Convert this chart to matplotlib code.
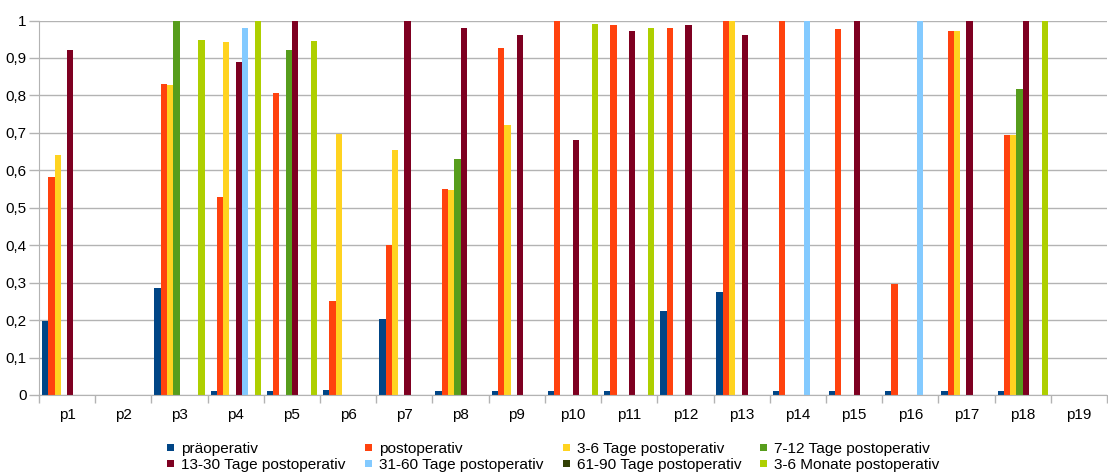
import matplotlib
matplotlib.use("Agg")
import matplotlib.pyplot as plt
import numpy as np
from matplotlib.patches import Rectangle
from matplotlib.ticker import FuncFormatter, FixedLocator

plt.rcParams['font.family'] = ['Liberation Sans', 'DejaVu Sans']

patients = [f"p{i}" for i in range(1, 20)]

series_names = [
    "präoperativ",
    "postoperativ",
    "3-6 Tage postoperativ",
    "7-12 Tage postoperativ",
    "13-30 Tage postoperativ",
    "31-60 Tage postoperativ",
    "61-90 Tage postoperativ",
    "3-6 Monate postoperativ",
]

colors = ["#004586", "#ff420e", "#ffd320", "#579d1c",
          "#7e0021", "#83caff", "#314004", "#aecf00"]

#                 p1     p2  p3     p4     p5     p6     p7     p8     p9     p10   p11   p12    p13    p14   p15   p16   p17   p18    p19
praeoperativ  = [0.198, 0, 0.287, 0.010, 0.010, 0.013, 0.202, 0.010, 0.010, 0.010, 0.010, 0.224, 0.274, 0.010, 0.010, 0.010, 0.010, 0.010, 0]
postoperativ  = [0.583, 0, 0.830, 0.528, 0.806, 0.250, 0.400, 0.551, 0.926, 1.000, 0.988, 0.979, 1.000, 1.000, 0.977, 0.296, 0.973, 0.695, 0]
tage_3_6      = [0.642, 0, 0.828, 0.942, 0,     0.697, 0.655, 0.547, 0.720, 0,     0,     0,     1.000, 0,     0,     0,     0.973, 0.695, 0]
tage_7_12     = [0,     0, 1.000, 0,     0.922, 0,     0,     0.629, 0,     0,     0,     0,     0,     0,     0,     0,     0,     0.816, 0]
tage_13_30    = [0.921, 0, 0,     0.889, 1.000, 0,     1.000, 0.979, 0.960, 0.680, 0.971, 0.988, 0.961, 0,     1.000, 0,     1.000, 1.000, 0]
tage_31_60    = [0,     0, 0,     0.979, 0,     0,     0,     0,     0,     0,     0,     0,     0,     1.000, 0,     1.000, 0,     0,     0]
tage_61_90    = [0] * 19
monate_3_6    = [0,     0, 0.949, 1.000, 0.946, 0,     0,     0,     0,     0.990, 0.981, 0,     0,     0,     0,     0,     0,     1.000, 0]

series_values = [praeoperativ, postoperativ, tage_3_6, tage_7_12,
                 tage_13_30, tage_31_60, tage_61_90, monate_3_6]

W, H = 1108, 475
fig = plt.figure(figsize=(W / 100, H / 100), dpi=100)
ax = fig.add_axes([39 / W, 80 / H, 1068 / W, 374.5 / H])

x = np.arange(len(patients))
n = len(series_names)
group_width = 0.895
w = group_width / n
for j, (name, vals, col) in enumerate(zip(series_names, series_values, colors)):
    offs = -group_width / 2 + (j + 0.5) * w
    ax.bar(x + offs, vals, width=w, color=col, label=name, linewidth=0)

ax.set_xlim(-0.5, len(patients) - 0.5)
ax.set_ylim(0, 1)

grid_col = "#b3b3b3"
ax.set_yticks(np.arange(0, 1.01, 0.1))
ax.yaxis.set_major_formatter(FuncFormatter(
    lambda v, p: "0" if abs(v) < 1e-9 else ("1" if abs(v - 1) < 1e-9 else f"{v:.1f}".replace(".", ","))))
ax.yaxis.grid(True, color=grid_col, linewidth=1)
ax.set_axisbelow(True)
ax.tick_params(axis="y", length=7, color=grid_col, width=1, labelsize=11, pad=2, labelcolor="#000000")

ax.xaxis.set_major_locator(FixedLocator(np.arange(-0.5, len(patients), 1.0)))
ax.set_xticklabels([""] * len(ax.get_xticks()))
ax.set_xticks(x, minor=True)
ax.set_xticklabels(patients, minor=True)
ax.tick_params(axis="x", which="major", length=6, color=grid_col, width=1)
ax.tick_params(axis="x", which="minor", length=0, labelsize=11, pad=9, labelcolor="#000000")

for s in ["top", "right"]:
    ax.spines[s].set_visible(False)
ax.spines["left"].set_color(grid_col)
ax.spines["bottom"].set_color(grid_col)

# Legend: 2 rows x 4 columns, filled row by row
col_x = [167, 365, 563, 760]
row_y = [447, 463]
sq = 7
for k, (name, col) in enumerate(zip(series_names, colors)):
    r, c = divmod(k, 4)
    x0, yc = col_x[c], row_y[r]
    fig.patches.append(Rectangle((x0 / W, (H - yc - sq / 2) / H), sq / W, sq / H,
                                 transform=fig.transFigure, facecolor=col,
                                 edgecolor="none"))
    fig.text((x0 + 14) / W, (H - yc) / H, name, fontsize=11.1, va="center_baseline",
             ha="left", color="#000000")

fig.savefig("out.png", dpi=100)
